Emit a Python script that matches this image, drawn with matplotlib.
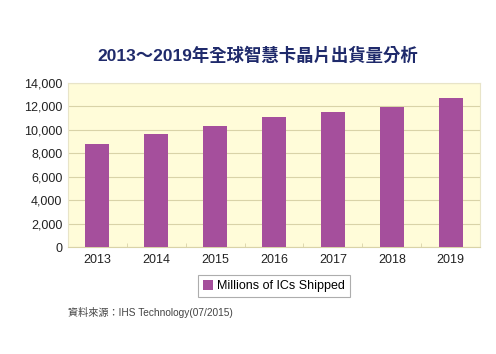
import matplotlib
matplotlib.use('Agg')
import matplotlib.pyplot as plt
import numpy as np

# data
years = ['2013', '2014', '2015', '2016', '2017', '2018', '2019']
shipped = [8800, 9600, 10300, 11100, 11500, 11900, 12700]
y_ticks = [0, 2000, 4000, 6000, 8000, 10000, 12000, 14000]

title = '2013～2019年全球智慧卡晶片出貨量分析'
series_name = 'Millions of ICs Shipped'
source = '資料來源：IHS Technology(07/2015)'

bar_color = '#A54F9C'
bg_color = '#FFFCD9'
grid_color = '#D9D3A8'

fig = plt.figure(figsize=(4.96, 3.54), dpi=100)
fig.patch.set_facecolor('white')
ax = fig.add_axes([0.137, 0.302, 0.831, 0.464])
ax.set_facecolor(bg_color)

x = np.arange(len(years))
ax.bar(x, shipped, width=0.41, color=bar_color, label=series_name, zorder=3)

ax.set_xlim(-0.5, len(years) - 0.5)
ax.set_ylim(0, 14000)
ax.set_yticks(y_ticks)
ax.set_yticklabels([f'{v:,}' for v in y_ticks], fontsize=9, family='Liberation Sans', color='#222222')
ax.set_xticks(x)
ax.set_xticklabels(years, fontsize=9, family='Liberation Sans', color='#222222')
ax.set_xticks(np.arange(len(years) + 1) - 0.5, minor=True)
ax.tick_params(axis='x', which='major', length=0, pad=5)
ax.tick_params(axis='x', which='minor', length=3, color=grid_color, direction='in')
ax.tick_params(axis='y', length=0, pad=4)
ax.yaxis.grid(True, color=grid_color, linewidth=0.8, zorder=0)

for side in ['top', 'right', 'left']:
    ax.spines[side].set_color('#E8E4C8')
ax.spines['bottom'].set_color(grid_color)

fig.text(0.52, 0.843, title, ha='center', va='center', fontsize=12.5, fontweight='bold',
         color='#1F2A6B', family=['Liberation Sans', 'Noto Sans CJK TC'])

leg = fig.legend(loc='center', bbox_to_anchor=(0.553, 0.192), frameon=True,
                 fancybox=False, prop={'family': 'Liberation Sans', 'size': 9},
                 handlelength=0.8, handleheight=0.8, handletextpad=0.3,
                 borderpad=0.4, edgecolor='#999999')
leg.get_frame().set_linewidth(0.8)

fig.text(0.137, 0.117, source, ha='left', va='center', fontsize=7.3, color='#444444',
         family=['Liberation Sans', 'Noto Sans CJK TC'])

fig.savefig('out.png', dpi=100, facecolor='white')
